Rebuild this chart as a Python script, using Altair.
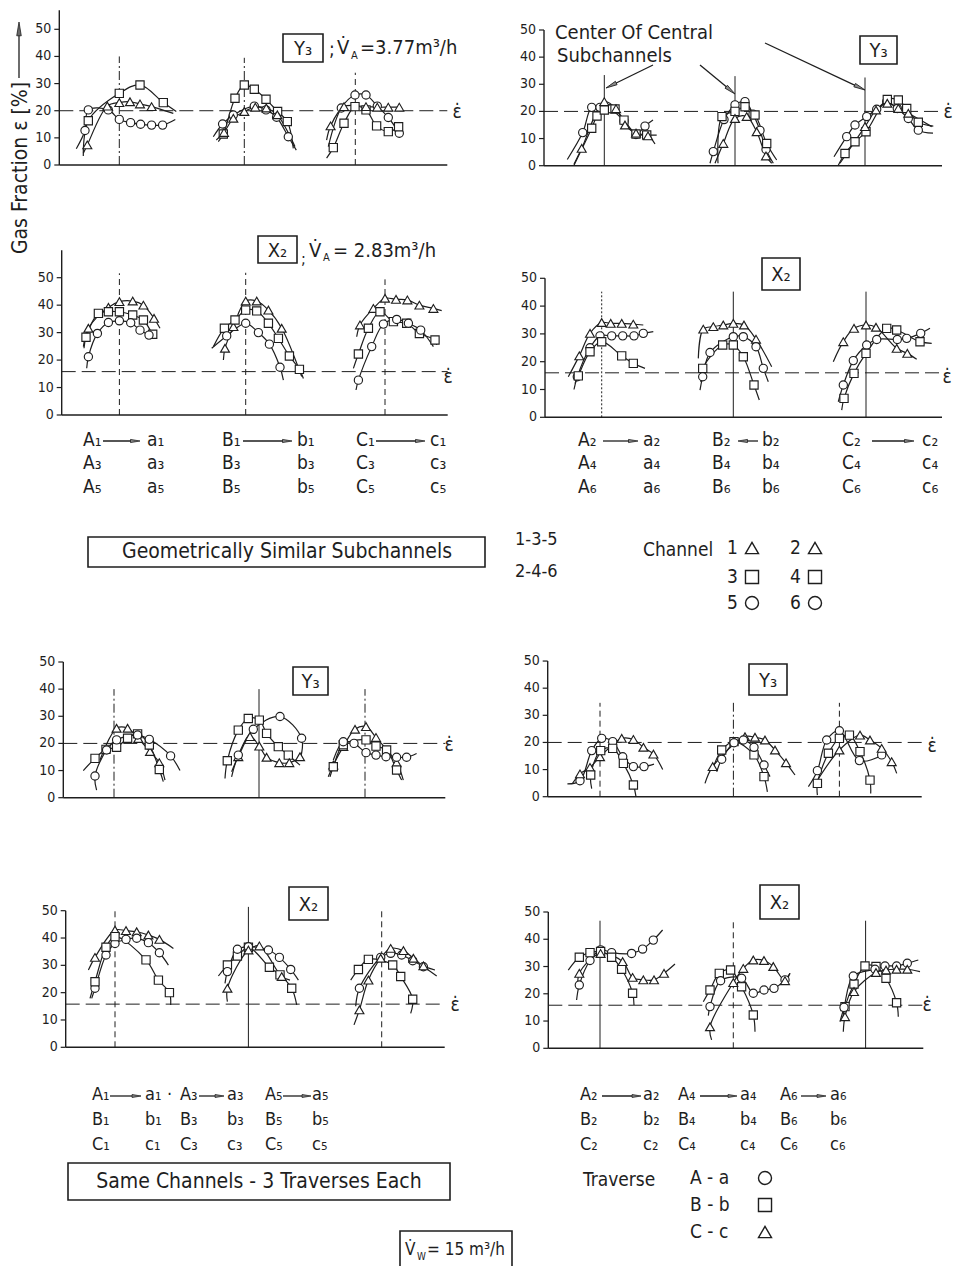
import math
import altair as alt
import pandas as pd

INK = "#1e1e1e"
FONT = "Liberation Sans Narrow, DejaVu Sans Condensed, Roboto Condensed, Roboto, sans-serif"
SHAPES = {"tri": "triangle-up", "sq": "square", "circ": "circle"}
MARK_SIZE = {"tri": 80, "sq": 68, "circ": 68}
TICKS = [0, 10, 20, 30, 40, 50]
HEAD = "M0,-1L0.33,1L-0.33,1Z"

# ---- measured gas fraction profiles ------------------------------------
# one entry per traverse:
# (group, marker, positions along the traverse, gas fraction [%],
#  start of the fitted curve, end of the fitted curve)

# Y3, V_A = 3.77 m3/h -- channels 1-3-5
y3_odd = [
    ("g1", "circ", [25.7, 29, 49, 60, 71.3, 81.3, 92.3, 103.3], [12.7, 20.3, 20.3, 16.8, 15.6, 15.0, 14.7, 14.7], (17, 6), (116, 16.8)),
    ("g1", "sq", [29, 60, 80.7, 104], [16.3, 26.4, 29.5, 23.0], (24, 3.3), (117, 19.7)),
    ("g1", "tri", [28, 48, 60, 70.7, 80.7, 92.3], [7.4, 21.7, 23.0, 23.3, 22.5, 21.5], (24, 4.3), (114, 19)),
    ("g2", "sq", [164, 175.7, 185, 195, 206.7, 218.3, 228], [11.4, 24.6, 29.5, 27.9, 24.2, 19.7, 16.0], (159, 8.6), (234, 6.1)),
    ("g2", "circ", [163.3, 174, 195, 206.7, 217.3, 229], [15.1, 18.4, 21.7, 20.3, 17.6, 10.4], (154, 10.4), (237, 5.5)),
    ("g2", "tri", [164.7, 174, 185, 196, 207, 218], [12, 17.2, 19.7, 21.3, 21.0, 18.5], (157, 9.2), (235.7, 6.8)),
    ("g3", "circ", [282, 295.7, 306.7, 318, 329, 340], [21.0, 25.8, 25.8, 21.7, 17.5, 11.7], (269, 6.8), (342, 10.4)),
    ("g3", "sq", [274, 284.7, 295.7, 306.7, 317.3, 329, 339.3], [6.4, 15.4, 21.5, 20.3, 14.4, 12.3, 14.1], (267.3, 2.5), (340.7, 15.4)),
    ("g3", "tri", [271.3, 284.7, 306.7, 318, 329, 340], [14.4, 21.5, 21.5, 21.3, 21.3, 21.3], (267.3, 9.2), None),
]

# Y3 -- channels 2-4-6
y3_even = [
    ("g1", "circ", [38.7, 47.7, 56, 66, 80, 92, 101], [12.2, 21.5, 21.5, 21, 16.5, 11.5, 14.6], (23.3, 2.3), (109, 16.8)),
    ("g1", "sq", [47.7, 53, 60.3, 71, 80, 92, 102.7], [13.8, 18.3, 20.5, 20.9, 16.8, 11.7, 11.3], (30, 0.2), (112.7, 11.3)),
    ("g1", "tri", [37.7, 60.3, 72, 81, 92, 104], [6.4, 23.6, 21, 15, 12, 11], (30, 0.5), (111, 8)),
    ("g2", "circ", [169.3, 180, 191, 201, 209, 216, 222], [5.2, 17, 22.4, 23.6, 19, 13, 6], (166, 0.9), (229.3, 0.9)),
    ("g2", "sq", [178, 191, 201, 211, 222.7], [18.1, 20, 21.7, 18.7, 8.2], (174, 0.9), (232.7, 2.1)),
    ("g2", "tri", [179.3, 191, 202.7, 212.7, 222], [8.2, 17.4, 18.1, 12.5, 3.6], (171, 0.9), (227.7, 0.9)),
    ("g3", "circ", [302.7, 311, 322.7, 332.7, 342.7, 353.3, 364.3, 374.3], [10.7, 15, 18.1, 20.8, 23.6, 21.1, 17.4, 13.1], (290, 3.3), (389, 12)),
    ("g3", "sq", [301, 311, 322, 343.3, 354.3, 362.7, 374.3], [4.5, 8.8, 12.5, 24.4, 24.2, 21.1, 16], (294.3, 0.2), (389.3, 14.6)),
    ("g3", "tri", [321, 332, 343.3, 354.3, 364.3], [14.4, 20.5, 23, 21.1, 19.3], (296, 0.9), (387.7, 14.4)),
]

# X2, V_A = 2.83 m3/h -- channels 1-3-5
x2_odd = [
    ("g1", "tri", [26.7, 46.7, 57.7, 71, 81.7, 92.3], [31.6, 39.2, 41.3, 41.5, 40.0, 35.2], (21.7, 24.9), (98.3, 31.6)),
    ("g1", "sq", [24.3, 36.7, 46.7, 57.7, 71, 81.7, 91], [28.3, 37, 37.6, 37.6, 36.4, 34.6, 29.4], (22.3, 24.3), (95, 27.9)),
    ("g1", "circ", [26.7, 35.7, 46.7, 57.7, 69, 78.3, 87.3], [21.2, 29.7, 33.7, 34.3, 33.6, 30.9, 29.1], (25, 17), (92, 28)),
    ("g2", "tri", [163.3, 171.7, 184, 195, 206.7, 220], [24.3, 32.2, 41.5, 41.5, 38.2, 31.6], (161.7, 20), (240, 14)),
    ("g2", "sq", [162.7, 173.3, 184, 195, 206.7, 216.7, 227.7, 237.7], [31.6, 34.6, 38.2, 37.9, 33.4, 27.9, 21.5, 16.6], (151.7, 24.9), (241.7, 13.3)),
    ("g2", "circ", [165, 184, 196.7, 207.7, 218.3], [28.8, 33.4, 30.0, 25.8, 17.4], (150, 24.3), (221.7, 12.7)),
    ("g3", "tri", [298.3, 311.7, 323.3, 334.3, 345.7, 357.7, 371.7], [32.8, 38.8, 42.5, 42.1, 41.9, 40, 38.8], (295, 28.5), (380, 38)),
    ("g3", "sq", [296.7, 306.7, 318.3, 331.7, 345, 357.7, 373.3], [22.2, 31.6, 37.6, 34, 33.4, 29.7, 27.3], (291.7, 17), (375, 25.5)),
    ("g3", "circ", [296.7, 310, 321.7, 335, 346.7, 359], [12.7, 24.9, 33.1, 34.8, 33.4, 30.9], (294.3, 9.1), (371.7, 24.9)),
]

# X2 -- channels 2-4-6
x2_even = [
    ("g1", "tri", [34.3, 45, 56.7, 65.7, 76.7, 88.3], [22.1, 30.2, 34.1, 33.8, 33.8, 33.5], (23.3, 14.6), (98.3, 33.2)),
    ("g1", "circ", [32.3, 45, 55, 66.7, 77.7, 89, 98.3], [14.6, 25, 29.3, 29.3, 29.3, 29.3, 30.2], (29, 10), (108.3, 30.8)),
    ("g1", "sq", [33.3, 45, 56.7, 76.7, 88.3], [14.9, 23.6, 27.2, 22.1, 19.4], (30, 12.2), (100, 17.6)),
    ("g2", "tri", [158.3, 168.3, 178.3, 188.3, 199, 211], [31.7, 32.6, 33.2, 33.8, 33.2, 28.1], (153.3, 21.2), (226.7, 18.2)),
    ("g2", "circ", [157.7, 165, 188.3, 198.3, 211, 218.3], [14.6, 23.3, 29, 29, 25.4, 17.6], (155, 9.8), (223.3, 12.8)),
    ("g2", "sq", [157.7, 177.7, 188.3, 198.3, 209], [17.6, 26, 26, 21.8, 11.6], (155.7, 12.8), (214.3, 6.2)),
    ("g3", "tri", [298.3, 309, 321, 331, 351.7, 362.3], [27.2, 32, 33.2, 32.4, 24.8, 23], (288.3, 20), (371.7, 20.9)),
    ("g3", "circ", [298.3, 308.3, 321.7, 331.7, 352.3, 361.7, 375.7], [11.6, 20.4, 26, 28, 28, 28.4, 30.2], (293.3, 5.6), (385, 32)),
    ("g3", "sq", [299, 309, 321, 341.7, 351.7, 375], [6.8, 15.8, 23, 32, 31.4, 27.2], (296.7, 2.6), (386.7, 26.6)),
]

# Y3 -- channels 1, 3, 5 with traverses A-a, B-b, C-c
y3_ch135 = [
    ("g1", "tri", [53.3, 64.3, 75, 86.7, 96], [25.6, 25.6, 21.8, 17, 12.9], (36.7, 13.9), (101.7, 6.5)),
    ("g1", "sq", [31.7, 42.7, 53.3, 64.3, 74.3, 86, 96], [14.5, 17.8, 18.6, 21.9, 23.5, 19.4, 10.4], (20, 10), (100, 5.9)),
    ("g1", "circ", [31.7, 43.3, 53.3, 74.3, 86, 107.3], [8, 17.6, 21.3, 23.1, 21.5, 15.4], (33.3, 2.8), (116.7, 10)),
    ("g2", "sq", [164, 175, 185, 196, 203.3, 215, 225], [13.6, 24.9, 29.2, 28.6, 23.7, 18.8, 15.7], (161.7, 7.1), (236.7, 12)),
    ("g2", "tri", [175, 186.7, 196, 203.3, 216, 226, 236.7], [15.1, 22.5, 19, 14.9, 12.9, 12.9, 15.1], (168.3, 9.6), (238.3, 16.3)),
    ("g2", "circ", [175, 190, 216.7, 238.3], [15.7, 25.2, 29.9, 21.9], (168.3, 7.7), (236.7, 13.9)),
    ("g3", "tri", [270, 280, 291.7, 302.7, 312.7, 333.3], [12, 18.8, 25.2, 26.2, 22.2, 12.9], (265, 7.7), (340, 6.5)),
    ("g3", "sq", [270, 280, 302.7, 312.7, 323.3, 333.3], [11.4, 19.5, 21.3, 19, 17.6, 10.2], (266.7, 7.7), (338.3, 6.5)),
    ("g3", "circ", [280, 290.7, 302.7, 312.7, 322.7, 333.3, 343.3], [20.6, 20, 16.6, 15.7, 15.1, 14.9, 14.9], (270, 13.9), (353.3, 16.3)),
]

# Y3 -- channels 2, 4, 6
y3_ch246 = [
    ("g1", "circ", [32.3, 44, 54, 65, 75, 85.7, 96.3], [5.9, 17, 21.5, 20.3, 14.7, 11.1, 11.1], (19.7, 4.7), (106.3, 12)),
    ("g1", "tri", [32.3, 42.3, 52.3, 74, 85.7, 95.7, 105.7], [8.4, 10.8, 14.7, 21.5, 21.1, 18.2, 15.7], (25, 5), (115, 10)),
    ("g1", "sq", [43, 53, 65, 75.7, 85.7], [8, 17, 17.8, 12.3, 4.3], (44, 3), (88.3, 0)),
    ("g2", "tri", [165, 197.3, 207.3, 217.3, 227.3, 238.3], [11.1, 22.1, 21.9, 20.9, 17.2, 12.5], (157.3, 4.9), (247.3, 8)),
    ("g2", "sq", [174, 186.3, 206.3, 216.3], [17.2, 20.3, 15.4, 7.4], (165.7, 11), (219.7, 1.8)),
    ("g2", "circ", [174, 186.3, 195.7, 206.3, 216.3], [13.8, 19.9, 20.9, 18.2, 11.7], (169, 9.2), (222.3, 7.4)),
    ("g3", "circ", [269.7, 279, 291.7, 311.7, 334], [9.6, 20.9, 24.3, 13.3, 15.4], (260.7, 3.7), (337.3, 17.2)),
    ("g3", "sq", [269.7, 280.7, 291.7, 301.7, 312.3, 322.3], [4.9, 16, 21.5, 22.7, 16.6, 6.1], (269.7, 0.6), (323, 1.2)),
    ("g3", "tri", [291.7, 312.3, 322.3, 334, 344], [17.2, 22.7, 20.9, 17.8, 12.9], (265.7, 3.7), (349, 8.6)),
]

# X2 -- channels 1, 3, 5
x2_ch135 = [
    ("g1", "tri", [29.3, 49.3, 60.3, 71, 82.7, 93.7], [32.9, 42.9, 42.7, 42.3, 41.1, 39.5], (22.7, 28.3), (107.7, 36.2)),
    ("g1", "circ", [29.3, 40.3, 49.3, 60.3, 71, 82.7, 93.7], [21.6, 33.8, 38, 39.5, 39.9, 38.3, 34.6], (26, 17.9), (102.7, 30.1)),
    ("g1", "sq", [29.3, 40.3, 49.3, 80.3, 92.7, 103.7], [24, 36.6, 40.5, 32, 24.6, 20], (24.3, 17.9), (105, 15.5)),
    ("g2", "sq", [161.7, 171.7, 182.7, 203.7, 214.3, 226], [30.1, 33.4, 36.6, 29.3, 26.5, 21.6], (152.7, 26.1), (231, 15.5)),
    ("g2", "circ", [161.7, 171.7, 182.7, 202.7, 213.7, 225], [27.7, 35.9, 36.8, 35.6, 32.9, 28.5], (159.3, 23.4), (232.7, 24.6)),
    ("g2", "tri", [161.7, 182.7, 193.7, 216], [21.6, 35.6, 37.1, 25.9], (161.7, 16.7), (224.3, 24.6)),
    ("g3", "sq", [292.7, 302.7, 327, 335, 347], [28.5, 32.2, 30.1, 25.9, 17.6], (285, 24.6), (345, 12.4)),
    ("g3", "circ", [293.7, 315, 325, 336, 347, 357.7], [21.6, 32.9, 34.4, 33.8, 31.7, 29.5], (290, 15), (371, 26.1)),
    ("g3", "tri", [293.7, 302.7, 315, 325, 337.7, 347.7, 357.7], [13.7, 24.6, 32.6, 36.2, 35.4, 32.6, 29.8], (288.3, 8.2), (369.3, 28.3)),
]

# X2 -- channels 2, 4, 6
x2_ch246 = [
    ("g1", "circ", [31, 41.7, 52.3, 63.3, 83.3, 94.3, 105], [23.2, 32.2, 36.1, 35.1, 34.8, 36.4, 39.7], (28.3, 17.7), (114.3, 43.4)),
    ("g1", "sq", [31, 41.7, 52.3, 63.3, 73.3, 84.3], [33.4, 35.1, 35.5, 33.4, 29, 20.2], (20, 28.7), (85.7, 15.9)),
    ("g1", "tri", [31, 52.3, 74.3, 84.3, 95, 105.7, 115.7], [27.5, 34.8, 31.8, 26, 25.1, 25.1, 27.5], (30, 22), (126.7, 30.9)),
    ("g2", "sq", [161.7, 171, 182.3, 193.3, 205], [21.4, 27.5, 28.7, 22.6, 12.2], (155, 17.1), (206.7, 6.1)),
    ("g2", "circ", [161.7, 172.3, 193.3, 205, 215.7, 225.7, 236.7], [15.3, 24.8, 25.7, 20.2, 21.4, 22, 25.1], (160, 12), (241.7, 27.5)),
    ("g2", "tri", [161.7, 185, 195, 205, 215.7, 225, 236.7], [7.9, 24.1, 29.3, 32.4, 32.2, 30, 24.8], (163.3, 3.1), (241.7, 27.5)),
    ("g3", "sq", [296.7, 305.7, 316.7, 327.7, 337.7, 348.3], [15.3, 23.6, 30.2, 30, 25.7, 16.7], (294.3, 10.4), (350, 11.6)),
    ("g3", "circ", [295.7, 305, 326.7, 336.7, 348.3, 359], [15, 26.5, 29, 30.2, 30.2, 31.2], (291.7, 9.8), (370, 32.4)),
    ("g3", "tri", [296.7, 305.7, 327.7, 337.7, 348.3, 359], [11.6, 20.8, 27.8, 28.7, 29, 29], (295, 6.1), (371.7, 28.1)),
]

# mean gas fraction (dashed line) for each panel
eps_mean = [20, 20, 15.8, 16, 20, 20, 15.8, 15.8]
# subchannel centres on each traverse axis
centres = [
    [60, 185, 296], [60.3, 191, 321], [57.7, 184, 323.3], [56.7, 188.3, 321],
    [50.7, 195.7, 301.7], [52.3, 185.7, 291.7], [49.3, 182.7, 316], [51.7, 185, 317.3],
]

# ---- panel placement on the page -------------------------------------------
LONG = [6, 4]
DASHDOT = [9, 3, 2, 3]
LAYOUT = [
    dict(x0=59.3, y0=165.0, k=2.714, length=388, ytop=57, tops=[40, 39.5, 34], dash=[DASHDOT, DASHDOT, LONG], eps_lab=(457, 112)),
    dict(x0=544.0, y0=165.7, k=2.714, length=398, ytop=50, tops=[33.4, 33, 32.5], dash=[None, None, None], eps_lab=(948, 112)),
    dict(x0=61.7, y0=415.0, k=2.746, length=386, ytop=60, tops=[51.6, 51.8, 49.4], dash=[LONG, LONG, LONG], eps_lab=(448, 377)),
    dict(x0=545.0, y0=417.3, k=2.78, length=397, ytop=50, tops=[45.2, 45.2, 45.2], dash=[[2, 2], None, None], eps_lab=(947, 377)),
    dict(x0=63.3, y0=797.7, k=2.714, length=382, ytop=50, tops=[40, 40, 40], dash=[DASHDOT, None, DASHDOT], eps_lab=(449, 745)),
    dict(x0=547.7, y0=796.7, k=2.713, length=374, ytop=50, tops=[34.6, 34.6, 34.6], dash=[LONG, DASHDOT, LONG], eps_lab=(932, 746)),
    dict(x0=65.7, y0=1047.3, k=2.732, length=379, ytop=50, tops=[50.5, 51.4, 50.2], dash=[LONG, None, LONG], eps_lab=(455, 1005)),
    dict(x0=548.3, y0=1048.3, k=2.726, length=375, ytop=50, tops=[46.8, 46.8, 46.8], dash=[None, LONG, None], eps_lab=(927, 1005)),
]

ONE = pd.DataFrame({"_": [0]})


def text(s, x, y, size=17, align="left", angle=0, baseline="middle"):
    kw = {"angle": angle} if angle else {}
    return alt.Chart(pd.DataFrame({"t": [s]})).mark_text(
        align=align, baseline=baseline, font=FONT, fontSize=size, color=INK, **kw
    ).encode(x=alt.value(x), y=alt.value(y), text="t:N")


def box(x1, y1, x2, y2, width=1.6):
    return alt.Chart(ONE).mark_rect(fillOpacity=0, stroke=INK, strokeWidth=width).encode(
        x=alt.value(x1), x2=alt.value(x2), y=alt.value(y1), y2=alt.value(y2)
    )


def arrow(x1, y1, x2, y2, size=110, fill="#8a8a8a"):
    dx, dy = x2 - x1, y2 - y1
    n = math.hypot(dx, dy)
    ux, uy = dx / n, dy / n
    r = math.sqrt(size) / 2
    cx, cy = x2 - r * ux, y2 - r * uy
    ang = math.degrees(math.atan2(ux, -uy)) % 360
    shaft = alt.Chart(ONE).mark_rule(color=INK, strokeWidth=1.3).encode(
        x=alt.value(x1), y=alt.value(y1), x2=alt.value(cx), y2=alt.value(cy)
    )
    kw = {"angle": ang} if ang > 0.01 else {}
    head = alt.Chart(ONE).mark_point(
        shape=HEAD, filled=True, fill=fill, stroke=INK, strokeWidth=0.8, size=size, opacity=1, **kw
    ).encode(x=alt.value(cx), y=alt.value(cy))
    return [shaft, head]


def symbol(kind, x, y, size=170):
    return alt.Chart(ONE).mark_point(
        shape=SHAPES[kind], filled=True, fill="white", stroke=INK, strokeWidth=1.4, size=size, opacity=1
    ).encode(x=alt.value(x), y=alt.value(y))


def panel(series, eps, centre, L):
    xs = alt.Scale(domain=[0, 390], range=[L["x0"], L["x0"] + 390])
    ys = alt.Scale(domain=[0, 60], range=[L["y0"], L["y0"] - 60 * L["k"]])

    def px(v):
        return alt.XDatum(v, scale=xs, axis=None)

    def py(v):
        return alt.YDatum(v, scale=ys, axis=None)

    layers = [
        alt.Chart(ONE).mark_rule(color=INK, strokeWidth=1.4).encode(x=px(0), y=py(0), y2=alt.Y2Datum(L["ytop"])),
        alt.Chart(ONE).mark_rule(color=INK, strokeWidth=1.4).encode(x=px(0), x2=alt.X2Datum(L["length"]), y=py(0)),
    ]
    ticks = pd.DataFrame({"v": TICKS})
    layers.append(alt.Chart(ticks).mark_rule(color=INK, strokeWidth=1.2).encode(
        x=px(-5), x2=alt.X2Datum(0), y=alt.Y("v:Q", scale=ys, axis=None)))
    layers.append(alt.Chart(ticks).mark_text(align="right", baseline="middle", font=FONT, fontSize=14, color=INK).encode(
        x=px(-8), y=alt.Y("v:Q", scale=ys, axis=None), text="v:Q"))
    layers.append(alt.Chart(ONE).mark_rule(color=INK, strokeWidth=1.0, strokeDash=[14, 6]).encode(
        x=px(0), x2=alt.X2Datum(L["length"]), y=py(eps)))
    for c, top, dash in zip(centre, L["tops"], L["dash"]):
        kw = {"strokeDash": dash} if dash else {}
        layers.append(alt.Chart(ONE).mark_rule(color=INK, strokeWidth=1.0, **kw).encode(
            x=px(c), y=py(0), y2=alt.Y2Datum(top)))

    pts, crv = [], []
    for grp, mk, xv, yv, start, end in series:
        sid = grp + "-" + mk
        for x, y in zip(xv, yv):
            pts.append({"sid": sid, "shape": SHAPES[mk], "sz": MARK_SIZE[mk], "x": x, "y": y})
        path = ([start] if start else []) + list(zip(xv, yv)) + ([end] if end else [])
        for i, (x, y) in enumerate(path):
            crv.append({"sid": sid, "i": i, "x": x, "y": y})

    layers.append(alt.Chart(pd.DataFrame(crv)).mark_line(interpolate="catmull-rom", color=INK, strokeWidth=1.2).encode(
        x=alt.X("x:Q", scale=xs, axis=None), y=alt.Y("y:Q", scale=ys, axis=None),
        detail="sid:N", order="i:Q"))
    layers.append(alt.Chart(pd.DataFrame(pts)).mark_point(filled=True, fill="white", stroke=INK, strokeWidth=1.15, opacity=1).encode(
        x=alt.X("x:Q", scale=xs, axis=None), y=alt.Y("y:Q", scale=ys, axis=None),
        shape=alt.Shape("shape:N", scale=None), size=alt.Size("sz:Q", scale=None)))
    ex, ey = L["eps_lab"]
    layers.append(text("ε̇", ex, ey, size=19, align="center"))
    return alt.layer(*layers)


all_series = [y3_odd, y3_even, x2_odd, x2_even, y3_ch135, y3_ch246, x2_ch135, x2_ch246]
panels = [panel(s, e, c, L) for s, e, c, L in zip(all_series, eps_mean, centres, LAYOUT)]

notes = []

# vertical axis title with upward arrow
notes.append(text("Gas  Fraction  ε  [%]", 21, 168, size=21, align="center", angle=270))
notes += arrow(19, 78, 19, 22, size=190, fill="#6a6a6a")

# panel captions
for (x1, y1, x2, y2), lab in [
    ((283, 34, 323, 62), "Y₃"), ((860, 36, 897, 64), "Y₃"),
    ((258, 236, 297, 263), "X₂"), ((762, 258, 800, 290), "X₂"),
    ((293, 667, 328, 695), "Y₃"), ((749, 664, 787, 695), "Y₃"),
    ((289, 887, 328, 920), "X₂"), ((760, 885, 799, 919), "X₂"),
]:
    notes.append(box(x1, y1, x2, y2))
    notes.append(text(lab, (x1 + x2) / 2, (y1 + y2) / 2 + 1, size=20, align="center"))

notes += [
    text(";", 329, 50, size=19), text("V̇", 337, 48, size=20), text("A", 351, 56, size=11),
    text("=3.77m³/h", 360, 48, size=20),
    text(";", 301, 259, size=16), text("V̇", 309, 251, size=20), text("A", 323, 258, size=11),
    text("= 2.83m³/h", 333, 251, size=20),
    text("Center Of   Central", 555, 33, size=20), text("Subchannels", 557, 56, size=20),
]
notes += arrow(653, 65, 606, 88, size=130)
notes += arrow(700, 65, 735, 94, size=130)
notes += arrow(765, 43, 865, 90, size=130)

# traverse labels beneath the second row
ROWS_MID = [440, 463, 487]
for y, sub in zip(ROWS_MID, ["₁", "₃", "₅"]):
    notes += [text("A" + sub, 83, y, 19), text("a" + sub, 147, y, 19),
              text("B" + sub, 222, y, 19), text("b" + sub, 297, y, 19),
              text("C" + sub, 356, y, 19), text("c" + sub, 430, y, 19)]
for y, sub in zip(ROWS_MID, ["₂", "₄", "₆"]):
    notes += [text("A" + sub, 578, y, 19), text("a" + sub, 643, y, 19),
              text("B" + sub, 712, y, 19), text("b" + sub, 762, y, 19),
              text("C" + sub, 842, y, 19), text("c" + sub, 922, y, 19)]
notes += arrow(103, 441, 140, 441, size=90)
notes += arrow(243, 441, 292, 441, size=90)
notes += arrow(376, 441, 425, 441, size=90)
notes += arrow(603, 441, 638, 441, size=90)
notes += arrow(758, 441, 738, 441, size=90)
notes += arrow(872, 441, 914, 441, size=90)

# legend for channels
notes += [box(88, 537, 485, 567), text("Geometrically  Similar  Subchannels", 287, 552, size=21, align="center"),
          text("1-3-5", 515, 540, size=18), text("2-4-6", 515, 572, size=18),
          text("Channel", 643, 550, size=19)]
for y, (c1, c2, kind) in zip([548, 577, 603], [("1", "2", "tri"), ("3", "4", "sq"), ("5", "6", "circ")]):
    notes += [text(c1, 727, y, 19), symbol(kind, 752, y), text(c2, 790, y, 19), symbol(kind, 815, y)]

# traverse labels beneath the fourth row
ROWS_LOW = [1095, 1120, 1145]
for y, letter in zip(ROWS_LOW, ["A", "B", "C"]):
    lo = letter.lower()
    notes += [text(letter + "₁", 92, y, 18), text(lo + "₁", 145, y, 18),
              text(letter + "₃", 180, y, 18), text(lo + "₃", 227, y, 18),
              text(letter + "₅", 265, y, 18), text(lo + "₅", 312, y, 18),
              text(letter + "₂", 580, y, 18), text(lo + "₂", 643, y, 18),
              text(letter + "₄", 678, y, 18), text(lo + "₄", 740, y, 18),
              text(letter + "₆", 780, y, 18), text(lo + "₆", 830, y, 18)]
notes.append(text("·", 167, 1095, 18))
for x1, x2 in [(110, 141), (199, 224), (283, 311), (602, 641), (700, 737), (801, 826)]:
    notes += arrow(x1, 1096, x2, 1096, size=80)

# legend for traverses
notes += [box(68, 1163, 450, 1200), text("Same  Channels  -  3 Traverses  Each", 259, 1182, size=21, align="center"),
          text("Traverse", 583, 1180, size=19)]
for y, lab, kind in [(1178, "A  -  a", "circ"), (1205, "B  -  b", "sq"), (1232, "C  -  c", "tri")]:
    notes += [text(lab, 690, y, 19), symbol(kind, 765, y)]

# water flow rate
notes += [box(400, 1231, 512, 1272), text("V̇", 405, 1250, size=17), text("W", 417, 1257, size=10),
          text("= 15 m³/h", 427, 1250, size=17)]

chart = alt.layer(*panels, *notes).resolve_scale(x="independent", y="independent").properties(
    width=955, height=1266, padding=0, autosize=alt.AutoSizeParams(type="none")
).configure_view(stroke=None)

chart.save("out.html", embed_options={"renderer": "svg", "actions": False})
